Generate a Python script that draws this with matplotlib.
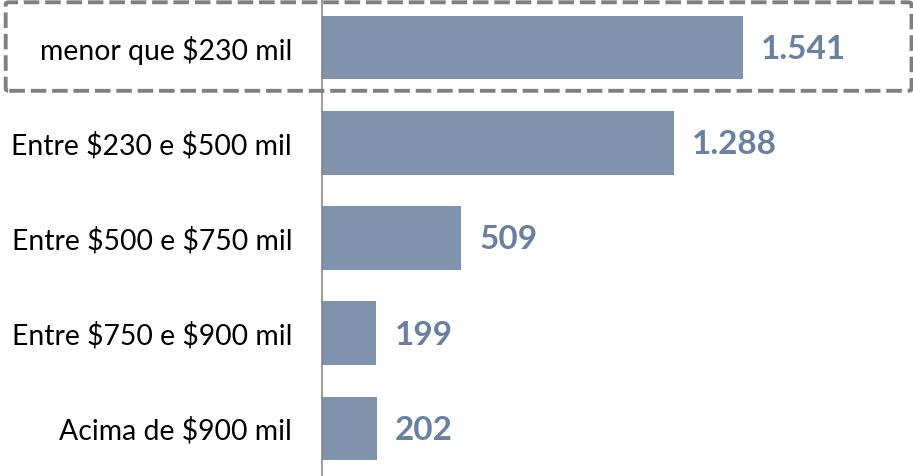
import matplotlib
matplotlib.use("Agg")
import matplotlib.pyplot as plt
from matplotlib.patches import FancyBboxPatch

categories = ["menor que $230 mil", "Entre $230 e $500 mil", "Entre $500 e $750 mil",
              "Entre $750 e $900 mil", "Acima de $900 mil"]
values = [1541, 1288, 509, 199, 202]
value_labels = ["1.541", "1.288", "509", "199", "202"]

plt.rcParams['font.family'] = ['Lato', 'DejaVu Sans']
plt.rcParams['text.parse_math'] = False

W, H = 913, 476
fig = plt.figure(figsize=(W/100, H/100), dpi=100)
ax = fig.add_axes([322/W, 0, 1 - 322/W, 1])

bar_color = "#7f93ad"
label_color = "#6a80a2"
ypos = list(range(len(categories)))
ax.barh(ypos, values, height=0.67, color=bar_color)
ax.set_ylim(len(categories) - 0.5, -0.5)
ax.set_xlim(0, 2163)

for y, v, t in zip(ypos, values, value_labels):
    ax.annotate(t, xy=(v, y), xytext=(18, -2), textcoords="offset pixels",
                ha="left", va="center", fontsize=24, fontweight="bold", color=label_color)

ax.set_yticks(ypos)
ax.set_yticklabels(categories, fontsize=20.4, color="black")
ax.tick_params(axis="y", length=0, pad=21.6)
ax.set_xticks([])
for s in ["top", "right", "bottom"]:
    ax.spines[s].set_visible(False)
ax.spines["left"].set_color("#808080")
ax.spines["left"].set_linewidth(1.1)

# dashed highlight box around first row
box = FancyBboxPatch((5.7/W, 1 - 90.8/H), (911.5 - 5.7)/W, (90.8 - 2.3)/H,
                     boxstyle="round,pad=0,rounding_size=0.004",
                     transform=fig.transFigure, fill=False,
                     edgecolor="#7f7f7f", linewidth=2.8, linestyle=(0, (4.0, 1.5)),
                     clip_on=False)
fig.patches.append(box)

fig.savefig("out.png", dpi=100)
